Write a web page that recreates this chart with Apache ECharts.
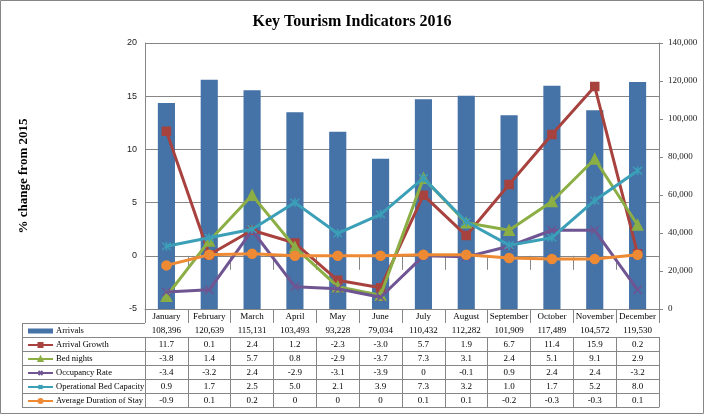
<!DOCTYPE html>
<html>
<head>
<meta charset="utf-8">
<script src="https://cdn.jsdelivr.net/npm/echarts@6/dist/echarts.min.js"></script>
<style>html,body{margin:0;padding:0;background:#fff}#c{width:704px;height:414px}</style>
</head>
<body>
<div id="c"></div>
<script>
const months = ['January','February','March','April','May','June','July','August','September','October','November','December'];
const seriesNames = ['Arrivals','Arrival Growth','Bed nights','Occupancy Rate','Operational Bed Capacity','Average Duration of Stay'];
const arrivals = [108396,120639,115131,103493,93228,79034,110432,112282,101909,117489,104572,119530];
const arrivalGrowth = [11.7,0.1,2.4,1.2,-2.3,-3.0,5.7,1.9,6.7,11.4,15.9,0.2];
const bedNights = [-3.8,1.4,5.7,0.8,-2.9,-3.7,7.3,3.1,2.4,5.1,9.1,2.9];
const occupancyRate = [-3.4,-3.2,2.4,-2.9,-3.1,-3.9,0,-0.1,0.9,2.4,2.4,-3.2];
const bedCapacity = [0.9,1.7,2.5,5.0,2.1,3.9,7.3,3.2,1.0,1.7,5.2,8.0];
const avgDuration = [-0.9,0.1,0.2,0,0,0,0.1,0.1,-0.2,-0.3,-0.3,0.1];
const leftTicks = {min:-5, max:20, interval:5};
const rightTicks = {min:0, max:140000, interval:20000};

const colors = ['#4572A7','#A8423F','#8BAE45','#6F5592','#3B9FB8','#EE8A34'];
const lineData = [arrivalGrowth, bedNights, occupancyRate, bedCapacity, avgDuration];
const symbols = ['rect','triangle','path://M0,0L10,10M10,0L0,10','path://M0,0L10,10M10,0L0,10M5,-1L5,11','circle'];
const symSizes = [8,10,8,9,9];

const GRID = {left:145, right:45, top:43, bottom:105};
const ROW = 14;
const plotBottom = 414 - GRID.bottom;
const gridColor = '#868686';
const serif = 'Liberation Serif';

const fmtPct = v => v === 0 ? '0' : v.toFixed(1);
const fmtNum = v => v.toLocaleString('en-US');

const rows = [arrivals.map(fmtNum)].concat(lineData.map(a => a.map(fmtPct)));

const xAxes = [{
  type:'category', data:months, gridIndex:0, position:'bottom', offset:0,
  axisLine:{show:true, lineStyle:{color:gridColor, width:1}},
  axisTick:{show:true, length:ROW, lineStyle:{color:gridColor}},
  axisLabel:{margin:3, fontSize:9, fontFamily:serif, color:'#000', interval:0},
  splitLine:{show:false}
}];
rows.forEach((r, i) => {
  xAxes.push({
    type:'category', data:r, gridIndex:0, position:'bottom', offset:ROW*(i+1),
    axisLine:{show:true, lineStyle:{color:gridColor, width:1}},
    axisTick:{show:true, length:ROW, lineStyle:{color:gridColor}},
    axisLabel:{margin:3, fontSize:9, fontFamily:serif, color:'#000', interval:0},
    splitLine:{show:false}
  });
});
xAxes.push({
  type:'category', data:months, gridIndex:0, position:'bottom', offset:ROW*(rows.length+1),
  axisLine:{show:true, lineStyle:{color:gridColor, width:1}},
  axisTick:{show:false}, axisLabel:{show:false}, splitLine:{show:false}
});

const series = [{
  name:seriesNames[0], type:'bar', xAxisIndex:0, yAxisIndex:1, data:arrivals,
  barWidth:'40%', itemStyle:{color:colors[0]}, z:1
}];
lineData.forEach((d, i) => {
  series.push({
    name:seriesNames[i+1], type:'line', xAxisIndex:0, yAxisIndex:0, data:d,
    symbol:symbols[i], symbolSize:symSizes[i], showAllSymbol:true,
    lineStyle:{color:colors[i+1], width:3},
    itemStyle:{color:colors[i+1], borderColor:colors[i+1], borderWidth:1.5},
    z:3+i
  });
});

const graphics = [{
  type:'rect', shape:{x:0.5, y:0.5, width:703, height:413},
  style:{fill:'none', stroke:gridColor, lineWidth:1}, silent:true
}];
for (let k = 1; k <= rows.length + 1; k++) {
  const y = plotBottom + ROW*k + 0.5;
  graphics.push({type:'line', shape:{x1:22, y1:y, x2:GRID.left, y2:y}, style:{stroke:gridColor, lineWidth:1}, silent:true});
}
graphics.push({type:'line', shape:{x1:22.5, y1:plotBottom+ROW+0.5, x2:22.5, y2:plotBottom+ROW*(rows.length+1)+0.5}, style:{stroke:gridColor, lineWidth:1}, silent:true});

const option = {
  animation:false,
  backgroundColor:'#fff',
  title:{text:'Key Tourism Indicators 2016', left:'center', top:9,
    textStyle:{fontFamily:serif, fontWeight:'bold', fontSize:16, color:'#000'}},
  grid:{left:GRID.left, right:GRID.right, top:GRID.top, bottom:GRID.bottom, containLabel:false, outerBoundsMode:'none'},
  legend:{
    orient:'vertical', left:27, top:plotBottom+ROW+1, padding:0, itemGap:0,
    itemWidth:25, itemHeight:5, selectedMode:false,
    data:seriesNames.map((n, i) => i === 0 ? {name:n, icon:'rect'} : {name:n}),
    textStyle:{fontFamily:serif, fontSize:8.5, color:'#000', lineHeight:ROW, padding:[0,0,0,-2]}
  },
  xAxis:xAxes,
  yAxis:[{
    type:'value', position:'left', min:leftTicks.min, max:leftTicks.max, interval:leftTicks.interval,
    name:'% change from 2015', nameLocation:'middle', nameRotate:90, nameGap:115,
    nameTextStyle:{fontFamily:serif, fontWeight:'bold', fontSize:13, color:'#000'},
    axisLine:{show:true, lineStyle:{color:gridColor}},
    axisTick:{show:false},
    axisLabel:{margin:8, fontSize:9, fontFamily:'Liberation Sans', color:'#222'},
    splitLine:{show:true, lineStyle:{color:gridColor, width:1}}
  },{
    type:'value', position:'right', min:rightTicks.min, max:rightTicks.max, interval:rightTicks.interval,
    axisLine:{show:true, lineStyle:{color:gridColor}},
    axisTick:{show:true, length:4, lineStyle:{color:gridColor}},
    axisLabel:{margin:9, fontSize:9, fontFamily:serif, color:'#222', formatter:v => fmtNum(v)},
    splitLine:{show:false}
  }],
  graphic:graphics,
  series:series
};

const chart = echarts.init(document.getElementById('c'), null, {renderer:'canvas'});
chart.setOption(option);
</script>
</body>
</html>
